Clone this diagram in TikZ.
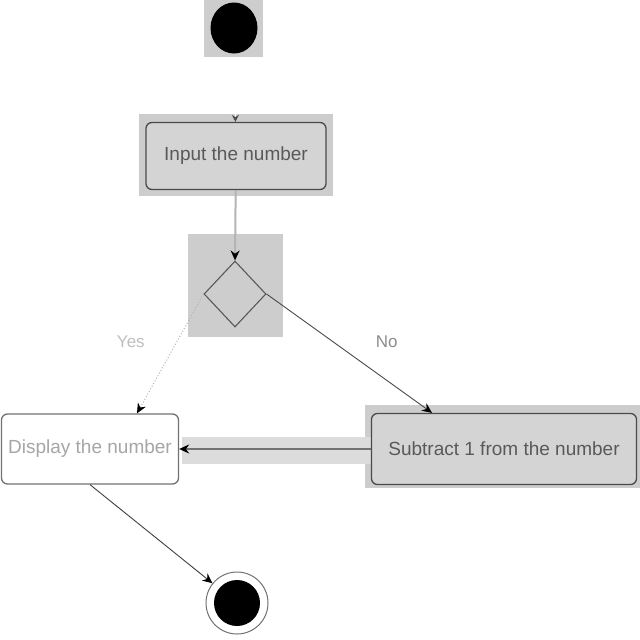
\documentclass[tikz,border=0pt]{standalone}
\usepackage{fontspec}
\setmainfont{Liberation Sans}
\usetikzlibrary{arrows.meta,shapes.geometric,calc}
\definecolor{hlbg}{HTML}{CDCDCD}
\definecolor{boxfill}{HTML}{D4D4D4}
\definecolor{darkline}{HTML}{4A4A4A}
\definecolor{midline}{HTML}{727272}
\definecolor{lightline}{HTML}{B4B4B4}
\tikzset{
  hl/.style={fill=hlbg,draw=none},
  actbox/.style={rectangle,rounded corners=6pt,minimum width=180pt,minimum height=67pt,inner sep=0pt,font=\fontsize{19}{22}\selectfont,line width=1.3pt},
  tip/.style={-{Stealth[length=10pt,width=9pt,fill=black,color=black]}},
  lbl/.style={font=\fontsize{17}{20}\selectfont},
}
\begin{document}
\begin{tikzpicture}[x=1pt,y=-1pt]
\useasboundingbox (0,0) rectangle (640,640);
\fill[white] (0,0) rectangle (640,640);
% highlight backgrounds
\fill[hl] (204,0) rectangle (263,57);
\fill[hl] (139,114) rectangle (333,196);
\fill[hl] (188,234) rectangle (283,337);
\fill[hl] (365,405) rectangle (640,488);
\fill[hlbg!70!white] (182,437) rectangle (372,464);
% nodes
\node[ellipse,fill=black,minimum width=47pt,minimum height=51pt,inner sep=0pt] (start) at (234,28) {};
\node[actbox,fill=boxfill,draw=darkline,text=black!65] (input) at (236,156) {Input the number};
\node[diamond,draw=black!65,line width=1.1pt,minimum width=62pt,minimum height=66pt,inner sep=0pt] (decision) at (235,294) {};
\node[actbox,minimum width=177pt,minimum height=70pt,fill=white,draw=midline,text=black!35] (display) at (90,449) {Display the number};
\node[actbox,minimum width=265pt,minimum height=71pt,fill=boxfill,draw=darkline,text=black!65] (subtract) at (504,449) {Subtract 1 from the number};
\node[circle,draw=midline,line width=1pt,fill=white,minimum size=62pt,inner sep=0pt] (final) at (237,603) {};
\node[circle,fill=black,minimum size=46pt,inner sep=0pt] (finalin) at (237,603) {};
% connectors
\draw[draw=white,line width=1pt,shorten <=10pt,-{Stealth[length=7pt,width=7pt,color=black!70]}] (start) -- (input);
\draw[lightline,line width=2pt,tip] (input) -- (decision.north);
\draw[lightline,dotted,line width=1pt,tip] (decision.west) -- node[lbl,pos=0.28,xshift=-54pt,yshift=-14pt,text=black!25]{Yes} ($(display.north)+(47,0)$);
\draw[darkline,line width=0.9pt,tip] (decision.east) -- node[lbl,pos=0.6,xshift=21pt,yshift=24pt,text=black!45]{No} ($(subtract.north)+(-72,0)$);
\draw[midline,line width=2.5pt,tip] (subtract) -- (display);
\draw[black!75,line width=0.9pt,tip] (display.south) -- (final);
\end{tikzpicture}
\end{document}
